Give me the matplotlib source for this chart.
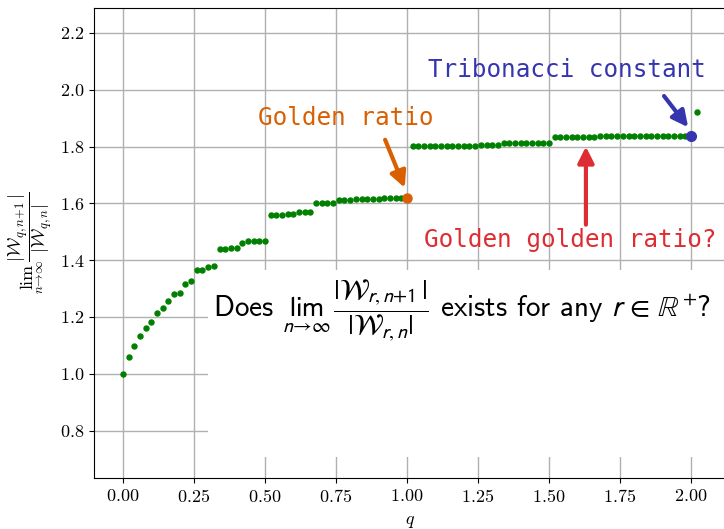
import numpy as np
import matplotlib
matplotlib.use("Agg")
import matplotlib.pyplot as plt
from matplotlib.patches import Rectangle

plt.rcParams['mathtext.fontset'] = 'cm'
plt.rcParams['font.family'] = 'serif'
plt.rcParams['font.serif'] = ['cmr10']
plt.rcParams['axes.formatter.use_mathtext'] = True

# q grid and estimated limit ratios
q = [0.00, 0.02, 0.04, 0.06, 0.08, 0.10, 0.12, 0.14, 0.16, 0.18,
     0.20, 0.22, 0.24, 0.26, 0.28, 0.30, 0.32, 0.34, 0.36, 0.38,
     0.40, 0.42, 0.44, 0.46, 0.48, 0.50, 0.52, 0.54, 0.56, 0.58,
     0.60, 0.62, 0.64, 0.66, 0.68, 0.70, 0.72, 0.74, 0.76, 0.78,
     0.80, 0.82, 0.84, 0.86, 0.88, 0.90, 0.92, 0.94, 0.96, 0.98,
     1.00, 1.02, 1.04, 1.06, 1.08, 1.10, 1.12, 1.14, 1.16, 1.18,
     1.20, 1.22, 1.24, 1.26, 1.28, 1.30, 1.32, 1.34, 1.36, 1.38,
     1.40, 1.42, 1.44, 1.46, 1.48, 1.50, 1.52, 1.54, 1.56, 1.58,
     1.60, 1.62, 1.64, 1.66, 1.68, 1.70, 1.72, 1.74, 1.76, 1.78,
     1.80, 1.82, 1.84, 1.86, 1.88, 1.90, 1.92, 1.94, 1.96, 1.98,
     2.00, 2.02]
ratio = [1.000, 1.059, 1.097, 1.133, 1.162, 1.184, 1.214, 1.231, 1.256, 1.280,
         1.285, 1.317, 1.325, 1.365, 1.367, 1.377, 1.381, 1.439, 1.439, 1.442,
         1.442, 1.460, 1.466, 1.466, 1.466, 1.466, 1.560, 1.560, 1.560, 1.562,
         1.562, 1.570, 1.570, 1.570, 1.601, 1.601, 1.601, 1.601, 1.613, 1.613,
         1.613, 1.616, 1.616, 1.617, 1.617, 1.617, 1.618, 1.618, 1.618, 1.618,
         1.618, 1.803, 1.803, 1.803, 1.803, 1.803, 1.803, 1.803, 1.803, 1.803,
         1.803, 1.803, 1.803, 1.806, 1.806, 1.806, 1.806, 1.812, 1.812, 1.812,
         1.812, 1.812, 1.812, 1.812, 1.812, 1.812, 1.834, 1.834, 1.834, 1.834,
         1.834, 1.834, 1.834, 1.834, 1.838, 1.838, 1.838, 1.838, 1.838, 1.838,
         1.838, 1.838, 1.839, 1.839, 1.839, 1.839, 1.839, 1.839, 1.839, 1.839,
         1.839, 1.921]

golden = (1.0, 1.618)
tribonacci = (2.0, 1.839)

# annotation layout
golden_text = (0.785, 1.900)
golden_arrow = ((0.923, 1.824), (0.992, 1.655))
trib_text = (1.562, 2.068)
trib_arrow = ((1.905, 1.978), (1.990, 1.868))
gg_text = (1.575, 1.472)
gg_arrow = ((1.630, 1.525), (1.630, 1.800))

fig = plt.figure(figsize=(7.24, 5.29), dpi=100)
ax = fig.add_axes([0.1302, 0.0964, 0.8717, 0.8885])
ax.set_xlim(-0.101, 2.121)
ax.set_ylim(0.633, 2.288)
ax.grid(True, color='#b0b0b0', lw=1.0)
ax.set_axisbelow(True)

# white background behind the question
ax.add_patch(Rectangle((0.299, 0.708), 2.0, 0.658, facecolor='white',
                       edgecolor='none', zorder=1.2))

ax.plot(q, ratio, 'o', color='green', ms=3.6, zorder=3)
ax.plot(*golden, 'o', color='#d95f02', ms=6.5, zorder=4)
ax.plot(*tribonacci, 'o', color='#3535b0', ms=7, zorder=4)

mono = dict(family='DejaVu Sans Mono', fontsize=17.5, ha='center', va='center')
ax.text(*golden_text, 'Golden ratio', color='#d95f02', **mono)
ax.text(*trib_text, 'Tribonacci constant', color='#3535b0', **mono)
ax.text(*gg_text, 'Golden golden ratio?', color='#dd2d32', **mono)

for (start, end), c in [(golden_arrow, '#d95f02'), (trib_arrow, '#3535b0'),
                        (gg_arrow, '#dd2d32')]:
    ax.annotate('', xy=end, xytext=start, zorder=5,
                arrowprops=dict(arrowstyle='-|>', color=c, lw=3,
                                mutation_scale=24, shrinkA=0, shrinkB=0))

ax.text(1.194, 1.222,
        r'Does $\lim_{n\to\infty}\,\dfrac{|\mathcal{W}_{r,n+1}|}{|\mathcal{W}_{r,n}|}$'
        r' exists for any $r\,\in\,\mathbb{R}^{+}$?',
        family='cmss10', math_fontfamily='stixsans', fontsize=21,
        ha='center', va='center', zorder=5)

ax.tick_params(labelsize=13)
ax.set_xlabel('$q$', fontsize=13, labelpad=7)
ax.set_ylabel(r'$\lim_{n\to\infty}\dfrac{|\mathcal{W}_{q,n+1}|}{|\mathcal{W}_{q,n}|}$',
              fontsize=13)

fig.savefig('out.png', dpi=100)
